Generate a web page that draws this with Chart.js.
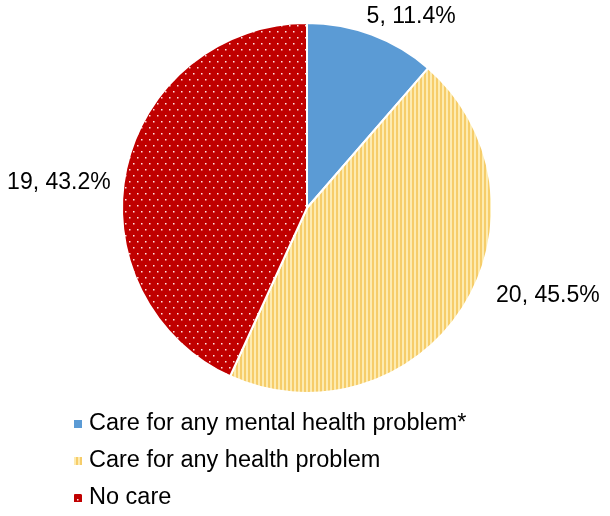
<!DOCTYPE html>
<html>
<head>
<meta charset="utf-8">
<script src="https://cdn.jsdelivr.net/npm/chart.js@4/dist/chart.umd.min.js"></script>
<style>
    html, body { margin: 0; padding: 0; background: #fff; }
    #wrap { width: 610px; height: 516px; position: relative; }
</style>
</head>
<body>
<div id="wrap"><canvas id="myChart" width="610" height="516"></canvas></div>
<script>
// chart data
var categories = ["Care for any mental health problem*", "Care for any health problem", "No care"];
var counts = [5, 20, 19];
var percents = ["11.4%", "45.5%", "43.2%"];

// label nudges (px) from the default outside anchor
var labelNudge = [[29, 10], [60, -29], [-38, 20]];

var FONT = '"Liberation Sans", Arial, sans-serif';

function stripePattern() {
    var c = document.createElement("canvas");
    c.width = 4; c.height = 4;
    var g = c.getContext("2d");
    g.fillStyle = "#fdebb0";
    g.fillRect(0, 0, 4, 4);
    g.fillStyle = "#f6cd6a";
    g.fillRect(0, 0, 2, 4);
    return g.createPattern(c, "repeat");
}

function dotPattern() {
    var c = document.createElement("canvas");
    c.width = 8; c.height = 12;
    var g = c.getContext("2d");
    g.fillStyle = "#c00000";
    g.fillRect(0, 0, 8, 12);
    g.fillStyle = "#ffe4e4";
    g.fillRect(1, 1, 1.5, 1.5);
    g.fillRect(5, 7, 1.5, 1.5);
    return g.createPattern(c, "repeat");
}

var fills = ["#5b9bd5", stripePattern(), dotPattern()];

// value labels outside the slices
var pieLabels = {
    id: "pieLabels",
    afterDatasetsDraw: function (chart) {
        var ctx = chart.ctx;
        var meta = chart.getDatasetMeta(0);
        ctx.save();
        ctx.font = "23px " + FONT;
        ctx.fillStyle = "#000";
        ctx.textAlign = "center";
        ctx.textBaseline = "middle";
        meta.data.forEach(function (arc, i) {
            var p = arc.getProps(["x", "y", "startAngle", "endAngle", "outerRadius"], true);
            var mid = (p.startAngle + p.endAngle) / 2;
            var r = p.outerRadius + 30;
            var x = p.x + Math.cos(mid) * r + labelNudge[i][0];
            var y = p.y + Math.sin(mid) * r + labelNudge[i][1];
            ctx.fillText(counts[i] + ", " + percents[i], x, y);
        });
        ctx.restore();
    }
};

// one item per row legend, bottom left
var rowLegend = {
    id: "rowLegend",
    afterDraw: function (chart) {
        var ctx = chart.ctx;
        var ds = chart.data.datasets[0];
        ctx.save();
        ctx.font = "23.5px " + FONT;
        ctx.fillStyle = "#000";
        ctx.textBaseline = "middle";
        chart.data.labels.forEach(function (lbl, i) {
            var y = 424 + i * 37;
            ctx.fillStyle = ds.backgroundColor[i];
            ctx.fillRect(74, y - 4, 8, 8);
            ctx.fillStyle = "#000";
            ctx.fillText(lbl, 89, y);
        });
        ctx.restore();
    }
};

new Chart("myChart", {
    type: "pie",
    data: {
        labels: categories,
        datasets: [{
            data: counts,
            backgroundColor: fills,
            borderColor: "#ffffff",
            borderWidth: 2
        }]
    },
    options: {
        responsive: false,
        animation: false,
        events: [],
        layout: {
            padding: { left: 121, right: 117, top: 22, bottom: 122 }
        },
        plugins: {
            legend: { display: false },
            tooltip: { enabled: false }
        }
    },
    plugins: [pieLabels, rowLegend]
});
</script>
</body>
</html>
